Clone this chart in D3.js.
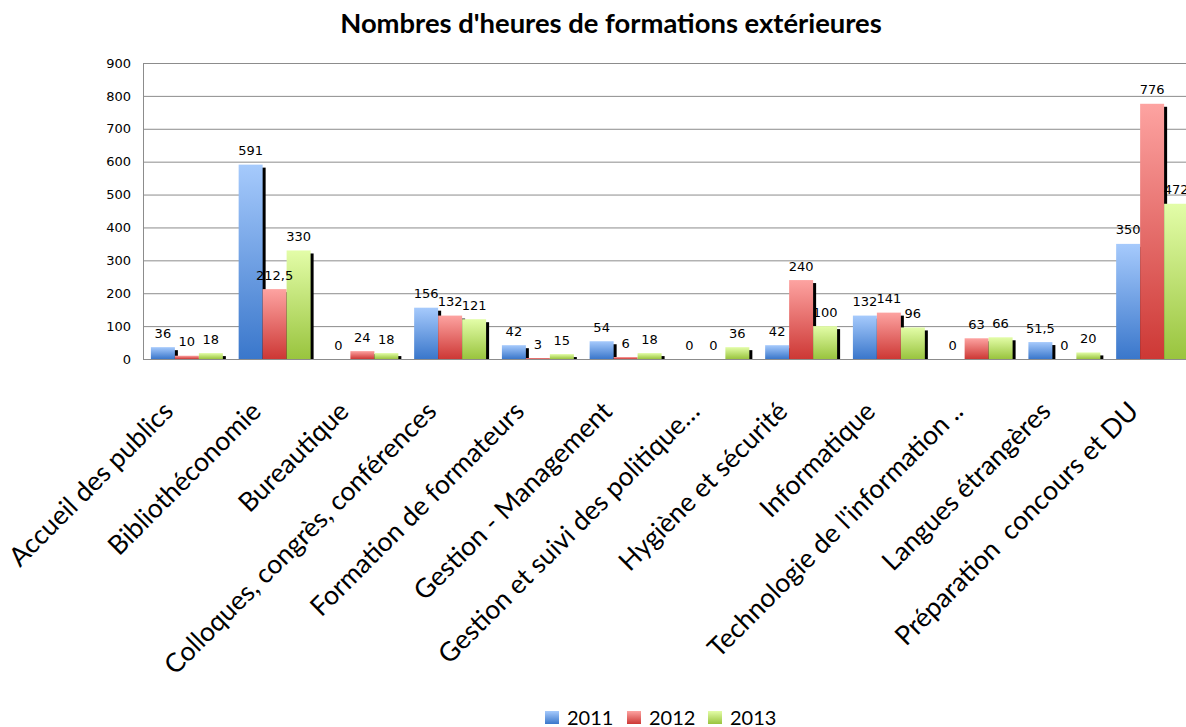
<!DOCTYPE html>
<html>
<head>
<meta charset="utf-8">
<script src="https://cdn.jsdelivr.net/npm/d3@7"></script>
<style>
  html, body { margin: 0; padding: 0; background: #ffffff; }
  svg { display: block; }
  .cat { white-space: pre; }
</style>
</head>
<body>
<svg id="chart" width="1186" height="727"></svg>
<script>
const title = "Nombres d'heures de formations extérieures";
const categories = [
  "Accueil des publics",
  "Bibliothéconomie",
  "Bureautique",
  "Colloques, congrès, conférences",
  "Formation de formateurs",
  "Gestion - Management",
  "Gestion et suivi des politique…",
  "Hygiène et sécurité",
  "Informatique",
  "Technologie de l'information ..",
  "Langues étrangères",
  "Préparation  concours et DU"
];
const years = ["2011", "2012", "2013"];
const values2011 = [36, 591, 0, 156, 42, 54, 0, 42, 132, 0, 51.5, 350];
const values2012 = [10, 212.5, 24, 132, 3, 6, 0, 240, 141, 63, 0, 776];
const values2013 = [18, 330, 18, 121, 15, 18, 36, 100, 96, 66, 20, 472];
const yTicks = [0, 100, 200, 300, 400, 500, 600, 700, 800, 900];

const seriesValues = [values2011, values2012, values2013];
const gradStops = [
  ["#a6cafc", "#3a77cb"],
  ["#fda3a1", "#cd3835"],
  ["#e3fda8", "#99c43e"]
];

const svg = d3.select("#chart");
const margin = { left: 143, top: 63, bottom: 359, right: 1196 };

const x0 = d3.scaleBand().domain(categories)
  .range([margin.left, margin.right]).paddingInner(0.18).paddingOuter(0.09);
const x1 = d3.scaleBand().domain(years).range([0, x0.bandwidth()]);
const y = d3.scaleLinear().domain([0, 900]).range([margin.bottom, margin.top]);

// gradients
const defs = svg.append("defs");
years.forEach((yr, i) => {
  const g = defs.append("linearGradient").attr("id", "grad" + i)
    .attr("x1", 0).attr("y1", 0).attr("x2", 0).attr("y2", 1);
  g.append("stop").attr("offset", "0%").attr("stop-color", gradStops[i][0]);
  g.append("stop").attr("offset", "100%").attr("stop-color", gradStops[i][1]);
});

// title
svg.append("text")
  .attr("x", 611).attr("y", 33)
  .attr("text-anchor", "middle")
  .attr("font-family", "Lato, 'Open Sans', sans-serif")
  .attr("font-weight", "bold")
  .attr("font-size", 27.4)
  .attr("fill", "#000")
  .text(title);

// grid lines
const yAxis = d3.axisLeft(y).tickValues(yTicks).tickSize(-(1186 - margin.left)).tickPadding(12);
const gy = svg.append("g").attr("transform", `translate(${margin.left},0)`).call(yAxis);
gy.select(".domain").attr("stroke", "#8c8c8c");
gy.selectAll(".tick line").attr("stroke", "#8c8c8c").attr("stroke-width", 1);
gy.selectAll(".tick text")
  .attr("font-family", "'DejaVu Sans', sans-serif")
  .attr("font-size", 13)
  .attr("fill", "#000");

// bars with shadows
const plot = svg.append("g");
seriesValues.forEach((vals, si) => {
  const g = plot.append("g");
  vals.forEach((v, ci) => {
    if (v <= 0) return;
    const bx = x0(categories[ci]) + x1(years[si]);
    const bw = x1.bandwidth();
    const top = y(v);
    const shTop = top + 3;
    const shH = y(0) - shTop;
    if (shH > 0) {
      g.append("rect").attr("x", bx + 3).attr("y", shTop)
        .attr("width", bw).attr("height", shH).attr("fill", "#000");
    }
    g.append("rect").attr("x", bx).attr("y", top)
      .attr("width", bw).attr("height", y(0) - top)
      .attr("fill", `url(#grad${si})`);
  });
});

// value labels
const fmt = v => String(v).replace(".", ",");
seriesValues.forEach((vals, si) => {
  vals.forEach((v, ci) => {
    const cx = x0(categories[ci]) + x1(years[si]) + x1.bandwidth() / 2;
    svg.append("text")
      .attr("x", cx).attr("y", y(v) - 9.5)
      .attr("text-anchor", "middle")
      .attr("font-family", "'DejaVu Sans', sans-serif")
      .attr("font-size", 13)
      .attr("fill", "#000")
      .text(fmt(v));
  });
});

// category labels
categories.forEach(c => {
  const cx = x0(c) + x0.bandwidth() / 2;
  svg.append("text")
    .attr("class", "cat")
    .attr("transform", `translate(${cx - 12},${413}) rotate(-45)`)
    .attr("text-anchor", "end")
    .attr("font-family", "Lato, 'Open Sans', sans-serif")
    .attr("font-size", 26.5)
    .attr("fill", "#000")
    .text(c);
});

// legend
const legendX = [545, 627, 708];
years.forEach((yr, i) => {
  svg.append("rect").attr("x", legendX[i]).attr("y", 711)
    .attr("width", 14).attr("height", 13).attr("fill", `url(#grad${i})`);
  svg.append("text").attr("x", legendX[i] + 22).attr("y", 725)
    .attr("font-family", "Lato, 'Open Sans', sans-serif")
    .attr("font-size", 20).attr("fill", "#000")
    .text(yr);
});
</script>
</body>
</html>
